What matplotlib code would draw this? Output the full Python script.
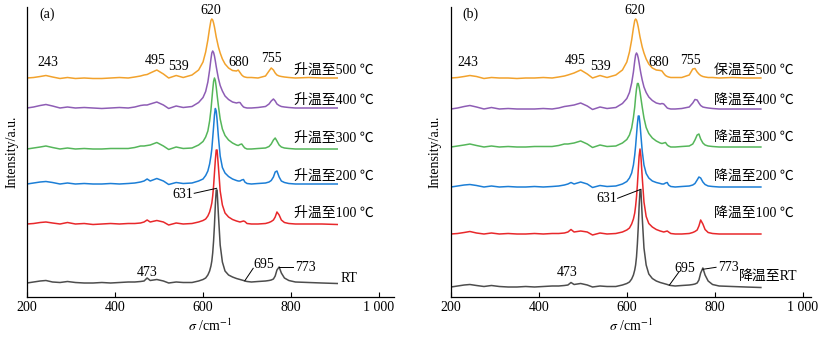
import numpy as np
import matplotlib
matplotlib.use("Agg")
import matplotlib.pyplot as plt

plt.rcParams['font.family'] = ['Liberation Serif', 'Noto Sans CJK SC']
plt.rcParams['mathtext.fontset'] = 'stix'

# Raman shift grid (cm-1), shared by all spectra
shift = [200, 215, 230, 243, 258, 275, 292, 310, 330, 350, 370, 390, 410, 430, 445, 458, 466, 473, 480, 495,
         510, 522, 539, 555, 575, 590,
         600, 606, 611, 615, 618, 620, 622, 624, 626, 628, 630, 632, 635, 639, 644, 650, 658, 667,
         676, 680, 684, 688, 692, 695, 700, 710, 725, 742, 750, 755, 760, 764, 768, 773, 778, 785, 795,
         810, 840, 870, 905]

# (a) heating, intensity above each curve's own baseline (a.u.)
a_500 = [0, 0.5, 1.5, 2.5, 1, -0.5, 0.5, -0.5, 0, -0.5, -0.5, 0, 0.5, 0, 1, 2, 3, 3.5, 5, 8, 4, 0, 2.5, 0.5, 3, 8,
         16, 26, 38, 50, 57.5, 59, 58, 55, 51, 46, 41, 37, 31, 25, 19, 14, 10, 7.5,
         7, 8, 5.5, 3, 1.5, 1, 0.5, 0.5, 0, 2, 7, 10, 8, 5, 3, 2, 1.5, 1, 0.5, 0, 0.5, 0, 0]
a_400 = [0, 1, 2.5, 3.5, 2, 0, 1, 0, 0.5, 0, -0.5, 0, 0.5, 0, 1, 2.5, 3, 3, 4, 6, 3, -0.5, 2, 0.5, 1.5, 5.5,
         10.5, 16.5, 26, 38, 49, 55, 57, 55.5, 52, 47, 41.5, 36.5, 29.5, 22.5, 17, 12, 8.5, 6,
         5, 5.5, 5.5, 3, 1, 0.5, 0, 0, 0.5, 1.5, 4, 7, 9, 7, 4, 2.5, 1.5, 1, 0.5, 0, 0, 0, 0]
a_300 = [0, 1, 2, 3, 1.5, 0, 1, 0, 0.5, 0, 0, 0.5, 0.5, 0.5, 1.5, 3, 3, 3.5, 4, 6.5, 3, -0.5, 2, 0.5, 1, 4,
         7.5, 12, 18, 28, 39, 49, 59, 67.5, 71, 68.5, 62, 54, 43, 30, 20, 13.5, 9, 6,
         4, 3.5, 4.5, 5, 2.5, 1, 0, 0, 0.5, 1, 2.5, 5, 9, 11, 8, 4, 2, 1, 0.5, 0, 0, 0, 0]
a_200 = [0, 1, 2, 2.5, 1.5, 0, 1, 0, 0.5, 0, 0, 0.5, 0, 0.5, 1, 2, 3, 5, 3, 5.5, 3, -0.5, 1.5, 0.5, 1, 3,
         5, 8.5, 13, 20, 28, 35, 46, 57, 69, 75.5, 73, 64, 47, 28, 16.5, 11, 7.5, 5,
         3.5, 3, 3, 4, 4.5, 2, 0.5, 0, 0.5, 1, 2, 3.5, 7, 12, 13, 7, 3, 1.5, 0.5, 0, 0, 0, 0]
a_100 = [0, 0.5, 1.5, 2, 1, 0, 1.5, 0, 0.5, -0.5, 0, 0.5, 0, 0.5, 0.5, 1, 2, 4, 2, 3.5, 2, -1, 1, 0, 0.5, 2,
         3.5, 5, 8, 12, 17, 21, 28, 38, 51, 64, 74, 74, 57, 33, 19, 11, 7, 4.5,
         3, 2.5, 2, 2.5, 3, 2.5, 0.5, 0, 0, 0.5, 1.5, 2.5, 4, 7, 12, 9, 4, 1.5, 0.5, 0, 0, 0, -0.5]
a_rt = [0, 1, 2, 2.5, 1, 0.5, 1.5, 0.5, 0, 0, 0.5, 0, 0.5, 1, 1, 1.5, 2, 5, 2.5, 3.5, 2, 0, 1, 0.5, 0.5, 2,
        3.5, 5, 8, 12, 17, 22, 30, 42, 58, 78, 93, 93, 68, 38, 21, 12, 8, 6,
        4.5, 4, 3.5, 3, 2.5, 2, 1.5, 1, 1.5, 2, 2.5, 3, 4, 7, 13, 16, 10, 5, 2.5, 1, 0.5, 0, -0.5]

# (b) holding / cooling
b_500 = [0, 0.5, 1.5, 2.5, 1.5, -0.5, 0.5, 0, 0, -0.5, 0, 0, 0.5, 0, 1, 2, 3, 4, 5, 8, 4, 0, 2.5, 0.5, 3, 8,
         16, 26, 38, 50, 57.5, 59, 58, 55, 51, 46, 41, 37, 31, 25, 19, 14, 10, 8,
         7.5, 7, 4.5, 2.5, 1.5, 1, 0.5, 0.5, 0.5, 3, 9, 9.5, 6, 4, 2.5, 1.5, 1, 0.5, 0.5, 0, 0.5, 0, 0]
b_400 = [0, 1, 2.5, 3.5, 2, 0, 1.5, 0, 0.5, 0, 0, 0, 0.5, 0, 1, 2.5, 3, 3.5, 4, 6, 3, -0.5, 2, 0.5, 1.5, 5.5,
         10.5, 16.5, 26, 37, 48, 54, 56, 54.5, 51, 46, 40.5, 35.5, 29, 22, 16.5, 12, 8.5, 6,
         5, 5.5, 5, 3, 1, 0.5, 0, 0, 0.5, 2, 6, 9.5, 9, 6, 3.5, 2, 1.5, 1, 0.5, 0, 0, 0, 0]
b_300 = [0, 1, 2, 3, 1.5, 0, 1, 0, 0.5, 0, 0, 0.5, 0.5, 0.5, 1.5, 3, 3, 3.5, 4, 6, 3, -0.5, 2, 0.5, 1, 4,
         7.5, 12, 19, 29.5, 40, 50, 58, 63.5, 63.5, 60, 55, 49, 40, 29, 19.5, 13.5, 9, 6,
         4, 3.5, 4, 4.5, 2, 1, 0, 0, 0.5, 1, 3, 7, 12, 13, 8, 4, 2, 1, 0.5, 0, 0, 0, 0]
b_200 = [0, 1, 2, 2.5, 1.5, 0, 1, 0, 0.5, 0, 0, 0.5, 0, 0.5, 1, 2, 3, 4.5, 3, 5, 3, -0.5, 1.5, 0.5, 1, 3,
         5.5, 9, 14, 22, 32, 41, 52, 63, 71, 71, 63, 52, 36, 22, 13.5, 9, 6, 4.5,
         3.5, 3, 3, 4, 4.5, 2, 0.5, 0, 0.5, 1, 2, 3.5, 7, 10, 9, 5, 2.5, 1, 0.5, 0, 0, 0, 0]
b_100 = [0, 0.5, 1.5, 2.5, 1, 0, 1, 0, 0.5, 0, 0, 0.5, 0, 0.5, 0.5, 1, 2, 4.5, 2, 3, 2, -1, 1, 0, 0.5, 2,
         4, 6, 10, 15, 21, 28, 37, 49, 64, 78, 85, 78, 57, 32, 17.5, 10.5, 7, 4.5,
         3, 2.5, 2, 2.5, 3, 2, 0.5, 0, 0, 0.5, 1.5, 2.5, 4, 8, 14, 10, 4.5, 1.5, 0.5, 0, 0, 0, 0]
b_rt = [0, 1, 2, 2.5, 1.5, 0.5, 1.5, 0.5, 0, 0, 0.5, 0, 0.5, 1, 1, 1.5, 2, 4.5, 2.5, 3.5, 2, 0, 1, 0.5, 0.5, 2,
        3.5, 5, 8, 12, 17, 22, 30, 43, 60, 81, 97, 97, 70, 39, 22, 13, 8.5, 6,
        4.5, 4, 3.5, 3, 2.5, 2, 1.5, 1, 1.5, 2, 2.5, 3, 4, 7, 14, 19, 12, 6, 2.5, 1, 0.5, 0, -0.5]

offsets_a = [219, 189, 148, 113, 73, 14]
offsets_b = [219, 188, 150, 110, 63, 10]
names_a = ['升温至500 ℃', '升温至400 ℃', '升温至300 ℃', '升温至200 ℃', '升温至100 ℃', 'RT']
names_b = ['保温至500 ℃', '降温至400 ℃', '降温至300 ℃', '降温至200 ℃', '降温至100 ℃', '降温至RT']
colors = ['#F2A22C', '#8E5DB5', '#55B65A', '#1C7ED6', '#E8282B', '#4D4D4D']

FS = 10

fig = plt.figure(figsize=(8.22, 3.37), dpi=100)
ax_a = fig.add_axes([27 / 822, 40 / 337, 367 / 822, 290 / 337])
ax_b = fig.add_axes([451 / 822, 40 / 337, 360 / 822, 290 / 337])


def draw(ax, curves, offsets, names, name_x, name_y, xmax):
    for y, off, c in zip(curves, offsets, colors):
        ax.plot(shift, np.array(y) + off, color=c, lw=1.1)
    for name, nx, ny in zip(names, name_x, name_y):
        ax.text(nx, ny, name, fontsize=FS, ha='left', va='center')
    ax.set_xlim(200, xmax)
    ax.set_ylim(0, 290)
    ax.set_yticks([])
    ax.set_xticks([200, 400, 600, 800, 1000])
    ax.set_xticklabels(['200', '400', '600', '800', '1 000'])
    ax.tick_params(axis='x', direction='in', length=3.5, width=0.8, pad=3, labelsize=FS)
    for s in ['top', 'right']:
        ax.spines[s].set_visible(False)
    for s in ['left', 'bottom']:
        ax.spines[s].set_linewidth(0.9)


draw(ax_a, [a_500, a_400, a_300, a_200, a_100, a_rt], offsets_a, names_a,
     [807] * 5 + [913], [227, 197, 159, 121, 84, 19], 1034)
draw(ax_b, [b_500, b_400, b_300, b_200, b_100, b_rt], offsets_b, names_b,
     [798] * 5 + [855], [227, 197, 160, 121, 84, 21], 1019)

# peak labels
peaks_a = [('243', 247, 234), ('495', 492, 236), ('539', 544, 231), ('620', 617, 286),
           ('680', 682, 235), ('755', 755, 238), ('473', 472, 24)]
peaks_b = [('243', 238, 234), ('495', 483, 236), ('539', 539, 231), ('620', 617, 286),
           ('680', 673, 234), ('755', 745, 237), ('473', 465, 24)]
for ax, peaks in [(ax_a, peaks_a), (ax_b, peaks_b)]:
    for t, px, py in peaks:
        ax.text(px, py, t, fontsize=FS, ha='center', va='center')

ax_a.text(227, 283, '(a)', fontsize=FS, ha='left', va='center')
ax_b.text(227, 283, '(b)', fontsize=FS, ha='left', va='center')

# leader lines
lk = dict(color='black', lw=0.7)
ax_a.text(555, 102, '631', fontsize=FS, ha='center', va='center')
ax_a.plot([580, 631], [103.7, 108.7], **lk)
ax_a.text(737, 32, '695', fontsize=FS, ha='center', va='center')
ax_a.plot([695, 714], [16.3, 28.7], **lk)
ax_a.text(809, 29.7, '773', fontsize=FS, ha='left', va='center')
ax_a.plot([773, 805], [29.7, 29.7], **lk)

ax_b.text(555, 98.7, '631', fontsize=FS, ha='center', va='center')
ax_b.plot([579, 632], [98.7, 107.7], **lk)
ax_b.text(731, 28.7, '695', fontsize=FS, ha='center', va='center')
ax_b.plot([697, 719], [12, 25.3], **lk)
ax_b.text(807, 29.7, '773', fontsize=FS, ha='left', va='center')
ax_b.plot([773, 803], [27.7, 29.7], **lk)

fig.text(12 / 822, 1 - 152 / 337, 'Intensity/a.u.', rotation=90, fontsize=FS, ha='center', va='center')
fig.text(435 / 822, 1 - 152 / 337, 'Intensity/a.u.', rotation=90, fontsize=FS, ha='center', va='center')
fig.text(210 / 822, 1 - 326 / 337, r'$\sigma$ /cm$^{-1}$', fontsize=FS, ha='center', va='center')
fig.text(631 / 822, 1 - 326 / 337, r'$\sigma$ /cm$^{-1}$', fontsize=FS, ha='center', va='center')

fig.savefig('out.png', dpi=100)
